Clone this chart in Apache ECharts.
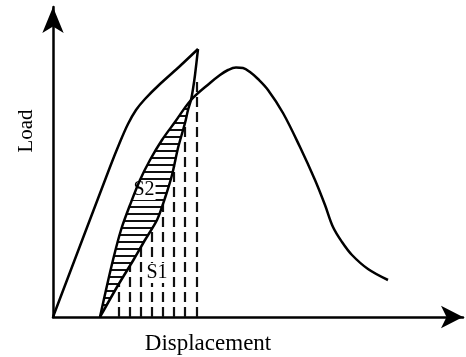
<!DOCTYPE html>
<html><head><meta charset="utf-8">
<script src="https://cdn.jsdelivr.net/npm/echarts@6/dist/echarts.min.js"></script>
<style>html,body{margin:0;padding:0;background:#fff}#c{width:466px;height:357px}</style>
</head><body><div id="c"></div>
<script>
// Load–displacement schematic (arbitrary units)
const loading   = [[0,0],[57,150],[67,175],[75,193],[83,207],[92,218],[107,233],[127,251],[145,268]];
const unloading = [[145,268],[142,242],[140,228],[138,217],[135,207],[132,194],[125,169],[119,142],[112,119],[104,97],[92,77],[81,58],[64,30],[47,0]];
const reloading = [[47,0],[53,27],[60,57],[68,87],[77,112],[87,137],[97,157],[109,177],[122,195],[138,217],[157,234],[167,242],[175,247],[183,249.5],[190,249],[197,245],[205,238],[215,227],[230,204],[247,170],[262,137],[272,112],[280,90],[289,75],[299,62],[315,48],[335,37]];
const loopTopReload = 9;   // index in reloading where loop closes
const loopTopUnload = 3;   // index in unloading where loop closes
const dashX   = [66,77,88,99,110,121,132,144];
const dashTop = [33,51,70,89,113,151,194,235];
const areaLabels = ['S1','S2'];
const labelPos = [[104,44],[91,127]];
const axisNames = ['Displacement','Load'];

function hatch(){
  const c = document.createElement('canvas'); c.width = 8; c.height = 7;
  const g = c.getContext('2d'); g.fillStyle = '#111'; g.fillRect(0,3,8,2);
  return c;
}
const serif = "'Liberation Serif','Times New Roman',serif";
const chart = echarts.init(document.getElementById('c'));
const axisCommon = {
  type:'value', axisTick:{show:false}, axisLabel:{show:false}, splitLine:{show:false}
};
chart.setOption({
  animation:false,
  backgroundColor:'#fff',
  grid:{left:53, top:7, width:410, height:310, containLabel:false, outerBoundsMode:'none'},
  xAxis:Object.assign({}, axisCommon, {min:0, max:410,
    axisLine:{show:true, symbol:['none','arrow'], symbolSize:[17,22], lineStyle:{color:'#000', width:2.5}}}),
  yAxis:Object.assign({}, axisCommon, {min:0, max:310,
    axisLine:{show:true, symbol:['none','arrow'], symbolSize:[16,26], lineStyle:{color:'#000', width:2.5}}}),
  graphic:[
    {type:'text', x:208, y:344, style:{text:axisNames[0], font:'23px '+serif, fill:'#000', align:'center', verticalAlign:'middle'}},
    {type:'text', x:26, y:131, rotation:Math.PI/2, style:{text:axisNames[1], font:'21px '+serif, fill:'#000', align:'center', verticalAlign:'middle'}}
  ],
  series:[
    {type:'custom', z:1, silent:true, data:[[0,0]],
      renderItem:function(p, api){
        const pts = reloading.slice(0, loopTopReload+1).concat(unloading.slice(loopTopUnload)).map(d => api.coord(d));
        return {type:'polygon', shape:{points:pts}, style:{fill:{image:hatch(), repeat:'repeat'}, stroke:null}};
      }},
    {type:'custom', z:1, silent:true, data:dashX.map((x,i)=>[x,dashTop[i]]),
      renderItem:function(p, api){
        const a = api.coord([api.value(0),0]), b = api.coord([api.value(0),api.value(1)]);
        return {type:'line', shape:{x1:a[0],y1:a[1],x2:b[0],y2:b[1]}, style:{stroke:'#111', lineWidth:2.2, lineDash:[10,5]}};
      }},
    {type:'custom', z:2, silent:true, data:labelPos.map((p,i)=>[p[0],p[1],i]),
      renderItem:function(p, api){
        const c = api.coord([api.value(0),api.value(1)]);
        return {type:'text', x:c[0], y:c[1], style:{text:areaLabels[api.value(2)], font:'20px '+serif, fill:'#000',
          align:'center', verticalAlign:'middle', backgroundColor:'#fff', padding:[0,1]}};
      }},
    {type:'line', z:3, data:loading, showSymbol:false, smooth:0.25, lineStyle:{color:'#000', width:2.5}},
    {type:'line', z:3, data:unloading, showSymbol:false, smooth:0.25, lineStyle:{color:'#000', width:2.5}},
    {type:'line', z:3, data:reloading, showSymbol:false, smooth:0.35, lineStyle:{color:'#000', width:2.5}}
  ]
});
</script></body></html>
